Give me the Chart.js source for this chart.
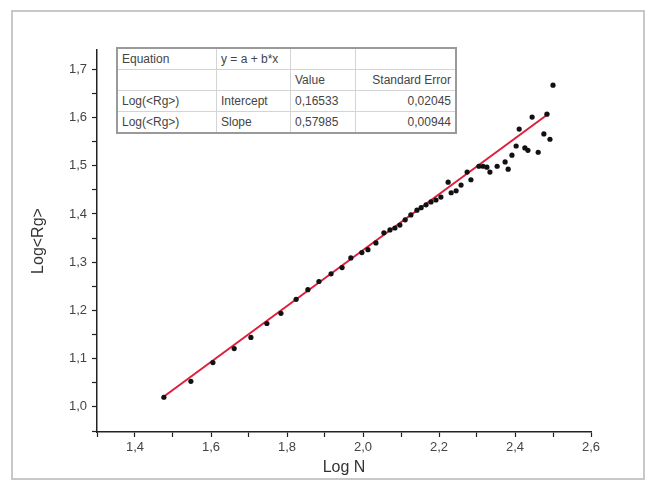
<!DOCTYPE html>
<html>
<head>
<meta charset="utf-8">
<script src="https://cdn.jsdelivr.net/npm/chart.js@4/dist/chart.umd.min.js"></script>
<style>
  body { margin: 0; background: #fff; }
  #wrap { position: relative; width: 656px; height: 486px; }
  #frame {
    position: absolute; left: 11px; top: 10px; width: 634px; height: 470px;
    border: 2px solid #c8c8c8; box-sizing: border-box; pointer-events: none;
  }
  #fit {
    position: absolute; left: 116px; top: 47px; width: 341px;
    border-collapse: collapse; border: 2px solid #9a9a9a;
    font-family: "Liberation Sans", Arial, sans-serif; font-size: 12px; color: #444;
    background: #fff;
  }
  #fit td { border: 1px solid #d4d4d4; height: 20px; padding: 0 4px; white-space: nowrap; }
  #fit td.r { text-align: right; }
</style>
</head>
<body>
<div id="wrap">
  <canvas id="rg-chart" width="656" height="486"></canvas>
  <table id="fit">
    <tr><td style="width:90px">Equation</td><td style="width:65px">y = a + b*x</td><td style="width:56px"></td><td></td></tr>
    <tr><td></td><td></td><td>Value</td><td class="r">Standard Error</td></tr>
    <tr><td>Log(&lt;Rg&gt;)</td><td>Intercept</td><td>0,16533</td><td class="r">0,02045</td></tr>
    <tr><td>Log(&lt;Rg&gt;)</td><td>Slope</td><td>0,57985</td><td class="r">0,00944</td></tr>
  </table>
  <div id="frame"></div>
</div>
<script>
var logN = [1.476, 1.547, 1.605, 1.661, 1.705, 1.747, 1.784, 1.824, 1.855, 1.884,
            1.916, 1.945, 1.968, 1.997, 2.013, 2.034, 2.055, 2.071, 2.084, 2.097,
            2.111, 2.126, 2.142, 2.153, 2.166, 2.179, 2.192, 2.205, 2.224, 2.232,
            2.245, 2.258, 2.274, 2.284, 2.305, 2.316, 2.326, 2.334, 2.353, 2.374,
            2.382, 2.392, 2.403, 2.411, 2.426, 2.434, 2.445, 2.461, 2.476, 2.484,
            2.492, 2.500];
var logRg = [1.020, 1.053, 1.092, 1.121, 1.144, 1.173, 1.194, 1.223, 1.243, 1.260,
             1.276, 1.289, 1.309, 1.320, 1.326, 1.340, 1.361, 1.367, 1.371, 1.377,
             1.388, 1.398, 1.408, 1.413, 1.419, 1.425, 1.429, 1.435, 1.466, 1.444,
             1.448, 1.460, 1.487, 1.471, 1.499, 1.499, 1.497, 1.487, 1.499, 1.508,
             1.493, 1.522, 1.541, 1.576, 1.537, 1.532, 1.601, 1.528, 1.566, 1.607,
             1.555, 1.667];

// linear fit endpoints (y = 0.16533 + 0.57985*x)
var fitX = [1.477, 2.49];
var fitY = [1.022, 1.609];

var xTicks = [1.3, 1.4, 1.5, 1.6, 1.7, 1.8, 1.9, 2.0, 2.1, 2.2, 2.3, 2.4, 2.5, 2.6];
var xLabels = [1.4, 1.6, 1.8, 2.0, 2.2, 2.4, 2.6];
var yTicks = [0.95, 1.0, 1.05, 1.1, 1.15, 1.2, 1.25, 1.3, 1.35, 1.4, 1.45, 1.5, 1.55, 1.6, 1.65, 1.7];
var yLabels = [1.0, 1.1, 1.2, 1.3, 1.4, 1.5, 1.6, 1.7];

var font = "'Liberation Sans', Arial, sans-serif";

function comma(v, list) {
    for (var i = 0; i < list.length; i++) {
        if (Math.abs(list[i] - v) < 1e-6) return v.toFixed(1).replace(".", ",");
    }
    return "";
}

new Chart(document.getElementById("rg-chart"), {
    type: "scatter",
    data: {
        datasets: [
            {
                label: "data",
                data: logN.map(function (x, i) { return { x: x, y: logRg[i] }; }),
                backgroundColor: "#111",
                borderColor: "#111",
                pointRadius: 2.6,
                pointBorderWidth: 0,
                order: 0,
            },
            {
                label: "fit",
                type: "line",
                data: fitX.map(function (x, i) { return { x: x, y: fitY[i] }; }),
                borderColor: "rgb(222, 30, 60)",
                borderWidth: 2,
                pointRadius: 0,
                fill: false,
                order: 1,
            },
        ],
    },
    options: {
        responsive: false,
        animation: false,
        layout: { padding: { top: 50, right: 65, left: 29, bottom: 9 } },
        plugins: { legend: { display: false }, tooltip: { enabled: false } },
        scales: {
            x: {
                type: "linear",
                min: 1.3,
                max: 2.6,
                afterBuildTicks: function (s) { s.ticks = xTicks.map(function (v) { return { value: v }; }); },
                afterFit: function (s) { s.height = 45; },
                border: { display: true, color: "#222", width: 1.5 },
                grid: { drawOnChartArea: false, drawTicks: true, tickLength: 5, tickColor: "#222", tickWidth: 1.2 },
                ticks: {
                    autoSkip: false,
                    maxRotation: 0,
                    padding: 3,
                    color: "#444",
                    font: { size: 13, family: font },
                    callback: function (v) { return comma(v, xLabels); },
                },
                title: {
                    display: true,
                    text: "Log N",
                    color: "#333",
                    padding: { top: 2, bottom: 0 },
                    font: { size: 16, family: font },
                },
            },
            y: {
                type: "linear",
                min: 0.948,
                max: 1.74,
                afterBuildTicks: function (s) { s.ticks = yTicks.map(function (v) { return { value: v }; }); },
                afterFit: function (s) { s.width = 68; },
                border: { display: true, color: "#222", width: 1.5 },
                grid: { drawOnChartArea: false, drawTicks: true, tickLength: 5, tickColor: "#222", tickWidth: 1.2 },
                ticks: {
                    autoSkip: false,
                    padding: 5,
                    color: "#444",
                    font: { size: 13, family: font },
                    callback: function (v) { return comma(v, yLabels); },
                },
                title: {
                    display: true,
                    text: "Log<Rg>",
                    color: "#333",
                    padding: { top: 0, bottom: 8 },
                    font: { size: 16, family: font },
                },
            },
        },
    },
});
</script>
</body>
</html>
